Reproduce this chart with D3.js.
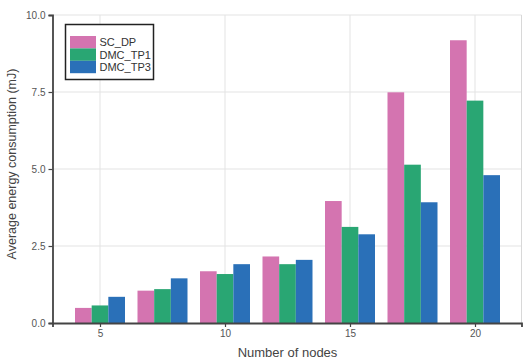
<!DOCTYPE html>
<html>
<head>
<meta charset="utf-8">
<script src="https://cdn.jsdelivr.net/npm/d3@7"></script>
<style>
  body { margin: 0; background: #fff; }
  svg { font-family: "Liberation Sans", Arial, sans-serif; }
</style>
</head>
<body>
<svg width="530" height="360"></svg>
<script>
// data
const nodes = [5, 7.5, 10, 12.5, 15, 17.5, 20];
const seriesNames = ["SC_DP", "DMC_TP1", "DMC_TP3"];
const scDP   = [0.49, 1.05, 1.68, 2.16, 3.96, 7.49, 9.18];
const dmcTP1 = [0.57, 1.10, 1.59, 1.91, 3.12, 5.14, 7.22];
const dmcTP3 = [0.85, 1.45, 1.91, 2.05, 2.88, 3.92, 4.80];
const colors = ["#d474b0", "#29a673", "#2a70b8"];
const xTicks = [5, 10, 15, 20];
const yTicks = [0, 2.5, 5, 7.5, 10];

const series = [scDP, dmcTP1, dmcTP3];

const plotLeft = 52.5, plotRight = 521.5, plotTop = 15, plotBottom = 323;

const x = d3.scaleLinear()
  .domain([5 - (100 - plotLeft) / 25, 20 + (plotRight - 475) / 25])
  .range([plotLeft, plotRight]);

const y = d3.scaleLinear()
  .domain([0, 10])
  .range([plotBottom, plotTop]);

const svg = d3.select("svg");

// grid
const grid = svg.append("g");
grid.selectAll("line.gy")
  .data(yTicks.slice(1))
  .enter()
  .append("line")
  .attr("x1", plotLeft).attr("x2", plotRight)
  .attr("y1", d => y(d)).attr("y2", d => y(d))
  .attr("stroke", "#e3e3e3").attr("stroke-width", 1);
grid.selectAll("line.gx")
  .data(xTicks)
  .enter()
  .append("line")
  .attr("x1", d => x(d)).attr("x2", d => x(d))
  .attr("y1", plotTop).attr("y2", plotBottom)
  .attr("stroke", "#e3e3e3").attr("stroke-width", 1);
grid.append("line")
  .attr("x1", plotRight).attr("x2", plotRight)
  .attr("y1", plotTop).attr("y2", plotBottom)
  .attr("stroke", "#d8d8d8").attr("stroke-width", 1);

// bars
const barW = 2 / 3;
series.forEach(function (vals, s) {
  svg.append("g")
    .selectAll("rect")
    .data(vals)
    .enter()
    .append("rect")
    .attr("x", (d, i) => x(nodes[i] - 1 + s * barW))
    .attr("width", x(barW) - x(0))
    .attr("y", d => y(d))
    .attr("height", d => y(0) - y(d))
    .attr("fill", colors[s]);
});

// axes
const xAxis = svg.append("g")
  .attr("transform", "translate(0," + plotBottom + ")")
  .call(d3.axisBottom(x).tickValues(xTicks).tickSize(4).tickPadding(3).tickFormat(d3.format("d")));
const yAxis = svg.append("g")
  .attr("transform", "translate(" + plotLeft + ",0)")
  .call(d3.axisLeft(y).tickValues(yTicks).tickSize(4).tickPadding(3).tickFormat(d3.format(".1f")));

[xAxis, yAxis].forEach(function (a) {
  a.select(".domain").attr("stroke", "#444").attr("stroke-width", 1.8);
  a.selectAll(".tick line").attr("stroke", "#444").attr("stroke-width", 1.2);
  a.selectAll(".tick text").attr("fill", "#555").style("font-size", "10px");
});

// axis titles
svg.append("text")
  .attr("x", 287.5).attr("y", 357)
  .attr("text-anchor", "middle")
  .attr("fill", "#444")
  .style("font-size", "13px")
  .text("Number of nodes");
svg.append("text")
  .attr("transform", "translate(15.5,164) rotate(-90)")
  .attr("text-anchor", "middle")
  .attr("fill", "#444")
  .style("font-size", "12.5px")
  .text("Average energy consumption (mJ)");

// legend
const legend = svg.append("g");
legend.append("rect")
  .attr("x", 65.5).attr("y", 24.5)
  .attr("width", 88).attr("height", 55)
  .attr("fill", "#fff")
  .attr("stroke", "#222").attr("stroke-width", 1.5);
seriesNames.forEach(function (name, i) {
  legend.append("rect")
    .attr("x", 70).attr("y", 36 + i * 12.4)
    .attr("width", 26).attr("height", 12.4)
    .attr("fill", colors[i]);
  legend.append("text")
    .attr("x", 99.5).attr("y", 42.5 + i * 12.4)
    .attr("dy", "0.35em")
    .attr("fill", "#333")
    .style("font-size", "11px")
    .text(name);
});
</script>
</body>
</html>
